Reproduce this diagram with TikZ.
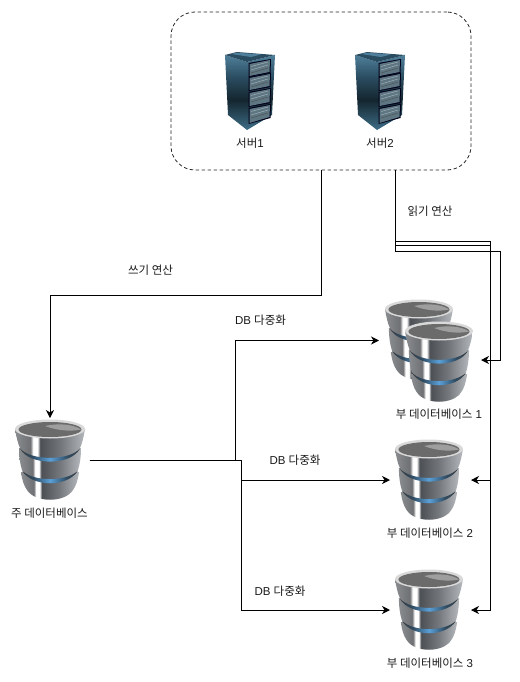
\documentclass[tikz,border=0pt]{standalone}
\usepackage{fontspec}
\setmainfont{Liberation Sans}
\newfontfamily\cjk{Noto Sans CJK KR}
\newcommand{\K}[1]{{\cjk #1}}
\usetikzlibrary{arrows.meta}
\definecolor{dgA}{HTML}{8A8D90}\definecolor{dgB}{HTML}{6E7073}\definecolor{dgC}{HTML}{4C5055}
\definecolor{dgD}{HTML}{74787C}\definecolor{dgE}{HTML}{B4B8BC}
\definecolor{bandB}{HTML}{5AA0D8}\definecolor{bandD}{HTML}{2F4A60}\definecolor{bandE}{HTML}{3A3E42}
\definecolor{sA}{HTML}{4F7F9A}\definecolor{sB}{HTML}{2A4C60}\definecolor{sC}{HTML}{14262F}\definecolor{sD}{HTML}{3E6E88}
\definecolor{rackA}{HTML}{5E7682}\definecolor{rackB}{HTML}{9FB0B8}
\pgfdeclarehorizontalshading{dbshade}{100bp}{
 color(0bp)=(dgA); color(25bp)=(dgA); color(36bp)=(dgB); color(38bp)=(white); color(41bp)=(white); color(43bp)=(dgC);
 color(58bp)=(dgD); color(75bp)=(dgE); color(100bp)=(dgE)}
\pgfdeclarehorizontalshading{bandshade}{100bp}{
 color(0bp)=(bandE); color(25bp)=(bandE); color(35bp)=(bandD); color(50bp)=(bandB); color(65bp)=(bandD); color(75bp)=(bandE); color(100bp)=(bandE)}
\pgfdeclareverticalshading{sideshade}{100bp}{
 color(0bp)=(sD); color(25bp)=(sD); color(45bp)=(sC); color(60bp)=(sB); color(75bp)=(sA); color(100bp)=(sA)}
\tikzset{
 lbl/.style={inner sep=0pt,font=\fontsize{11.5}{13}\selectfont,text=black!90},
 hot/.style={inner sep=0pt,outer sep=0pt},
 conn/.style={line width=.9pt,draw=black},
 arr/.style={conn,-{Stealth[length=8pt,width=8pt,inset=2.5pt]}},
 pics/dbicon/.style={code={
  \shade[shading=dbshade] (6,52) .. controls (7,60) and (9,66) .. (12,70) .. controls (20,83) and (50,83) .. (58,70) .. controls (61,66) and (63,60) .. (64,52) -- cycle;
  \shade[shading=dbshade] (4,28) .. controls (4,36) and (5,44) .. (7,50) .. controls (18,66) and (52,66) .. (63,50) .. controls (65,44) and (66,36) .. (66,28) -- cycle;
  \shade[shading=dbshade] (0,9) .. controls (1,16) and (3,24) .. (5,28) .. controls (15,44) and (55,44) .. (65,28) .. controls (67,24) and (69,16) .. (70,9) -- cycle;
  \shade[shading=bandshade] (5,28.5) .. controls (16,41) and (54,41) .. (65,28.5) .. controls (56,46) and (14,46) .. (5,28.5) -- cycle;
  \shade[shading=bandshade] (7,50.5) .. controls (18,62) and (52,62) .. (63,50.5) .. controls (53,67.5) and (17,67.5) .. (7,50.5) -- cycle;
  \fill[black!15] (35,9) ellipse [x radius=35,y radius=9.5];
  \fill[black!58] (35,9.5) ellipse [x radius=31.5,y radius=7.5];
  \fill[black!38] (30,6) .. controls (45,2.5) and (60,5) .. (66,9.5) .. controls (55,12) and (40,10) .. (30,6) -- cycle;
 }},
 pics/srvicon/.style={code={
  \shade[shading=sideshade] (0,3) -- (22,10) -- (22,78) -- (3,63) -- cycle;
  \shade[shading=sideshade] (22,10) -- (50,3) -- (47,63) -- (22,78) -- cycle;
  \fill[sB] (0,3) -- (12,0) -- (50,3) -- (22,10) -- cycle;
  \fill[sA] (6,2) -- (12,.8) -- (36,2.4) -- (26,5) -- cycle;
  \foreach \ya/\yb/\yc/\yd in {11/25/7/21,25/39/21/35,40/55/36/51,56/72/52/66}{
   \fill[black!90!blue] (23.5,\ya) -- (46,\yc) -- (45.5,\yd) -- (23.5,\yb) -- cycle;
   \fill[rackA] (24.5,\ya+1) -- (45,\yc+1) -- (44.5,\yd-1) -- (24.5,\yb-1) -- cycle;
   \draw[rackB,line width=.5pt] (26,\ya+3.5) -- (43,\yc+3);
   \draw[rackB,line width=.5pt] (26,\ya+7) -- (43,\yc+6);
   \draw[black!70,line width=.4pt] (26,\ya+10) -- (43,\yc+9);
  }
 }}
}
\begin{document}
\begin{tikzpicture}[x=1pt,y=-1pt]
\useasboundingbox (0,0) rectangle (519,682);
% server group
\node[hot,draw=black!85,dashed,dash pattern=on 3.5pt off 2.5pt,line width=.8pt,rounded corners=24pt,minimum width=300pt,minimum height=158pt] (group) at (321,91) {};
\pic at (225,52) {srvicon};
\pic at (355,52) {srvicon};
\node[lbl] (s1) at (250,143) {\K{서버}1};
\node[lbl] (s2) at (380,143) {\K{서버}2};
% databases
\pic at (15,420) {dbicon};
\pic[xscale=.97] at (385,300) {dbicon};
\pic[xscale=.97] at (405,322) {dbicon};
\pic[xscale=.97] at (395,440) {dbicon};
\pic[xscale=.97] at (395,570) {dbicon};
% connector anchors
\node[hot,minimum width=79pt,minimum height=84pt] (main) at (50,460) {};
\node[hot,minimum width=80pt,minimum height=40pt] (rep1a) at (419,340.5) {};
\node[hot,minimum width=100pt,minimum height=40pt] (rep1b) at (431,360) {};
\node[hot,minimum width=81pt,minimum height=80pt] (rep2) at (430.5,480) {};
\node[hot,minimum width=81pt,minimum height=80pt] (rep3) at (430.5,610) {};
\coordinate (rd) at (395,170);
\coordinate (busTop) at (490,241);
% labels
\node[lbl] (m) at (49.5,513) {\K{주 데이터베이스}};
\node[lbl] (r1) at (439,414) {\K{부 데이터베이스} 1};
\node[lbl] (r2) at (430,533) {\K{부 데이터베이스} 2};
\node[lbl] (r3) at (430,663) {\K{부 데이터베이스} 3};
\node[lbl] (wl) at (150.5,270) {\K{쓰기 연산}};
\node[lbl] (rl) at (430,211) {\K{읽기 연산}};
\node[lbl] (d1) at (260.5,320) {DB \K{다중화}};
\node[lbl] (d2) at (295,460) {DB \K{다중화}};
\node[lbl] (d3) at (280,591) {DB \K{다중화}};
% write
\draw[arr] (group.south) -- (321,295) -- (50,295) -- (main.north);
% read
\draw[arr] (rd) -- (395,241) -- (busTop) -- (490,610) -- (rep3.east);
\draw[arr] (rd) -- (395,245) -- (490,245) -- (490,480) -- (rep2.east);
\draw[arr] (rd) -- (395,251) -- (500,251) -- (500,360) -- (rep1b.east);
% replication
\draw[arr] (main.east) -- (235,460) -- (235,340.5) -- (rep1a.west);
\draw[arr] (main.east) -- (241,460) -- (241,480) -- (rep2.west);
\draw[arr] (main.east) -- (241,460) -- (241,610) -- (rep3.west);
\end{tikzpicture}
\end{document}
